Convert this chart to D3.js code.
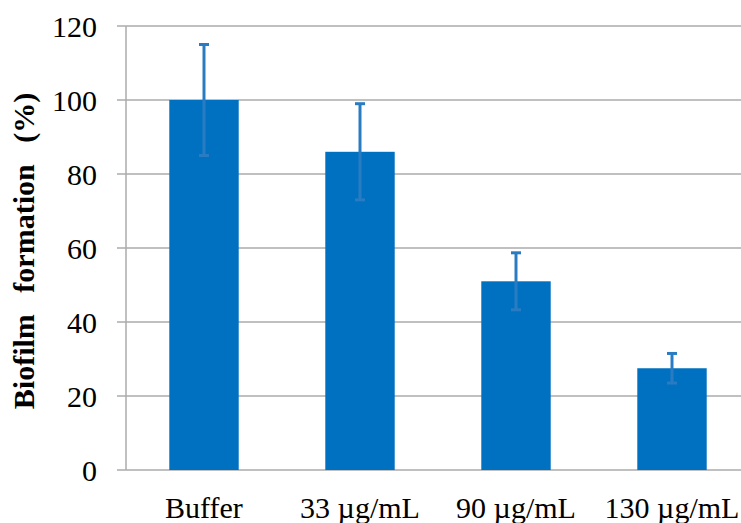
<!DOCTYPE html>
<html>
<head>
<meta charset="utf-8">
<script src="https://cdn.jsdelivr.net/npm/d3@7"></script>
<style>
  body { margin: 0; background: #fff; }
  text { font-family: "Liberation Serif", "Times New Roman", serif; fill: #000; }
</style>
</head>
<body>
<svg id="chart" width="741" height="523"></svg>
<script>
// biofilm formation vs. concentration
const categories = ["Buffer", "33 \u00b5g/mL", "90 \u00b5g/mL", "130 \u00b5g/mL"];
const values = [100, 86, 51, 27.5];
const errors = [15, 13, 7.7, 4];
const yTicks = [0, 20, 40, 60, 80, 100, 120];

const svg = d3.select("#chart");

const plotLeft = 126;
const plotRight = 750;
const plotTop = 26;
const plotBottom = 470;

const xScale = d3.scaleBand()
  .domain(categories)
  .range([plotLeft, plotRight])
  .paddingInner(0.555)
  .paddingOuter(0.2775);

const yScale = d3.scaleLinear().domain([0, 120]).range([plotBottom, plotTop]);

// gridlines
svg.append("g")
  .selectAll("line")
  .data(yTicks)
  .enter()
  .append("line")
  .attr("x1", plotLeft - 9)
  .attr("x2", 741)
  .attr("y1", (d) => yScale(d))
  .attr("y2", (d) => yScale(d))
  .attr("stroke", "#ababab")
  .attr("stroke-width", 1.5);

// left axis line
svg.append("line")
  .attr("x1", plotLeft)
  .attr("x2", plotLeft)
  .attr("y1", plotTop)
  .attr("y2", plotBottom)
  .attr("stroke", "#ababab")
  .attr("stroke-width", 1.5);

// y tick labels
const yAxis = svg.append("g")
  .attr("transform", `translate(${plotLeft - 29}, 1)`)
  .call(d3.axisLeft(yScale).tickValues(yTicks).tickSize(0).tickPadding(0));
yAxis.select(".domain").remove();
yAxis.selectAll("text")
  .style("font-family", '"Liberation Serif", "Times New Roman", serif')
  .style("font-size", "30px")
  .attr("fill", "#000");

// bars
svg.append("g")
  .selectAll("rect")
  .data(categories)
  .enter()
  .append("rect")
  .attr("x", (d) => xScale(d))
  .attr("y", (d, i) => yScale(values[i]))
  .attr("width", xScale.bandwidth())
  .attr("height", (d, i) => plotBottom - yScale(values[i]))
  .attr("fill", "#0070c0");

// error bars
const errG = svg.append("g")
  .selectAll("g")
  .data(categories)
  .enter()
  .append("g")
  .attr("stroke", "#2a7cc2")
  .attr("stroke-width", 3);

const cx = (d) => xScale(d) + xScale.bandwidth() / 2;

errG.append("line")
  .attr("x1", cx)
  .attr("x2", cx)
  .attr("y1", (d, i) => yScale(values[i] + errors[i]))
  .attr("y2", (d, i) => yScale(values[i] - errors[i]));

errG.append("line")
  .attr("x1", (d) => cx(d) - 5)
  .attr("x2", (d) => cx(d) + 5)
  .attr("y1", (d, i) => yScale(values[i] + errors[i]))
  .attr("y2", (d, i) => yScale(values[i] + errors[i]));

errG.append("line")
  .attr("x1", (d) => cx(d) - 5)
  .attr("x2", (d) => cx(d) + 5)
  .attr("y1", (d, i) => yScale(values[i] - errors[i]))
  .attr("y2", (d, i) => yScale(values[i] - errors[i]));

// x labels
svg.append("g")
  .selectAll("text")
  .data(categories)
  .enter()
  .append("text")
  .attr("x", cx)
  .attr("y", 518)
  .attr("text-anchor", "middle")
  .style("font-size", "30px")
  .text((d) => d);

// y axis title
svg.append("text")
  .attr("transform", "translate(34, 251) rotate(-90)")
  .attr("text-anchor", "middle")
  .style("font-size", "30px")
  .style("font-weight", "bold")
  .style("word-spacing", "14px")
  .text("Biofilm formation (%)");
</script>
</body>
</html>
